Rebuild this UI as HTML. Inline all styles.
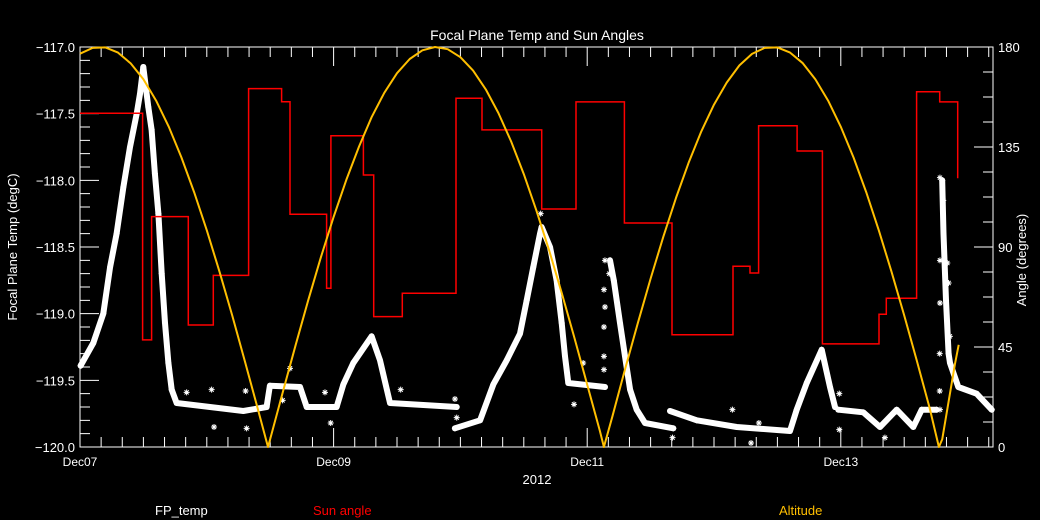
<!DOCTYPE html>
<html><head><meta charset="utf-8"><style>
html,body{margin:0;padding:0;background:#000;}
svg{display:block;font-family:"Liberation Sans",sans-serif;}
</style></head><body>
<svg id="chart" width="1040" height="520" viewBox="0 0 1040 520">
<rect x="0" y="0" width="1040" height="520" fill="#000"/>
<text x="537" y="40" fill="#fff" font-size="14" text-anchor="middle">Focal Plane Temp and Sun Angles</text>
<text x="537" y="484" fill="#fff" font-size="13" text-anchor="middle">2012</text>
<text transform="translate(17,247) rotate(-90)" fill="#fff" font-size="13" text-anchor="middle">Focal Plane Temp (degC)</text>
<text transform="translate(1026,260) rotate(-90)" fill="#fff" font-size="13" text-anchor="middle">Angle (degrees)</text>
<text x="155" y="515" fill="#fff" font-size="13">FP_temp</text>
<text x="313" y="515" fill="#ff0000" font-size="13">Sun angle</text>
<text x="779" y="515" fill="#ffbf00" font-size="13">Altitude</text>
<g id="axes"></g>
<g id="plot"></g>
</svg>
<script>
// x tick labels (days from Dec07)
const xTickDays = [0, 2, 4, 6];
const xTickLabels = ["Dec07", "Dec09", "Dec11", "Dec13"];
const leftTicks = [-117.0, -117.5, -118.0, -118.5, -119.0, -119.5, -120.0];
const leftTickLabels = ["-117.0", "-117.5", "-118.0", "-118.5", "-119.0", "-119.5", "-120.0"];
const rightTicks = [0, 45, 90, 135, 180];
const rightTickLabels = ["0", "45", "90", "135", "180"];

// FP_temp band (null = gap)
const fpTimes = [0.005,0.105,0.184,0.237,0.289,0.342,0.394,0.447,0.473,0.499,0.539,0.565,0.591,0.618,0.644,0.670,0.697,0.723,0.762,1.025,1.288,1.472,1.498,1.735,1.788,2.024,2.077,2.155,2.300,2.366,2.445,2.971,null,
 2.957,3.155,3.260,3.365,3.470,3.523,3.575,3.628,3.640,3.707,3.759,3.799,3.825,3.851,4.140,null,
 4.180,4.210,4.259,4.298,4.338,4.390,4.456,4.679,null,
 4.653,4.864,5.179,5.599,5.652,5.731,5.849,5.915,5.954,null,
 5.980,6.177,6.309,6.441,6.572,6.638,6.756,null,
 6.800,6.810,6.830,6.850,6.861,6.927,7.071,7.190];
const fpTemps = [-119.39,-119.22,-119.0,-118.65,-118.40,-118.05,-117.75,-117.50,-117.35,-117.15,-117.45,-117.62,-117.95,-118.25,-118.70,-119.07,-119.37,-119.57,-119.67,-119.70,-119.73,-119.70,-119.54,-119.55,-119.70,-119.70,-119.53,-119.37,-119.17,-119.35,-119.67,-119.70,null,
 -119.86,-119.80,-119.53,-119.35,-119.15,-118.90,-118.65,-118.40,-118.35,-118.50,-118.75,-119.07,-119.32,-119.52,-119.55,null,
 -118.60,-118.75,-119.07,-119.32,-119.57,-119.72,-119.82,-119.86,null,
 -119.73,-119.80,-119.85,-119.88,-119.72,-119.52,-119.27,-119.55,-119.70,null,
 -119.72,-119.74,-119.85,-119.72,-119.85,-119.72,-119.72,null,
 -118.00,-118.40,-118.90,-119.30,-119.37,-119.55,-119.60,-119.72];
// isolated FP_temp samples
const fpOutTimes = [0.841,1.038,1.057,1.306,1.314,1.656,1.598,1.932,1.977,2.529,2.957,2.971,3.633,3.968,3.896,4.140,4.132,4.140,4.132,4.132,4.132,4.174,4.673,5.145,5.354,5.292,5.988,5.988,6.348,6.782,6.808,6.782,6.840,6.782,6.850,6.780,6.780,6.782,6.860];
const fpOutTemps = [-119.59,-119.57,-119.85,-119.58,-119.86,-119.41,-119.65,-119.59,-119.82,-119.57,-119.64,-119.78,-118.25,-119.37,-119.68,-118.60,-118.82,-118.95,-119.10,-119.32,-119.42,-118.70,-119.93,-119.72,-119.82,-119.97,-119.60,-119.87,-119.93,-117.98,-118.15,-118.60,-118.62,-118.92,-118.77,-119.30,-119.58,-119.72,-119.17];

// Sun angle step series (value holds from time until next time)
const sunTimes = [0,0.494,0.565,0.854,1.051,1.330,1.590,1.656,1.945,1.979,2.235,2.316,2.542,2.965,3.170,3.641,3.912,4.293,4.669,5.150,5.284,5.352,5.655,5.855,6.301,6.359,6.598,6.780,6.922];
const sunAngles = [150.2,48.2,103.7,54.9,77.2,161.3,155.4,104.7,71.4,140.1,122.4,58.7,69.2,156.9,142.7,107.1,155.3,100.8,50.5,81.3,78.3,144.6,133.2,46.4,59.7,66.9,159.9,155.3,120.9];

// Altitude samples
const altTimes = [0,0.1,0.2,0.3,0.4,0.5,0.6,0.7,0.8,0.9,1.0,1.1,1.2,1.3,1.4,1.483,1.5,1.6,1.7,1.8,1.9,2.0,2.1,2.2,2.3,2.4,2.5,2.6,2.7,2.8,2.9,3.0,3.1,3.2,3.3,3.4,3.5,3.6,3.7,3.8,3.9,4.0,4.1,4.132,4.2,4.3,4.4,4.5,4.6,4.7,4.8,4.9,5.0,5.1,5.2,5.3,5.4,5.5,5.6,5.7,5.8,5.9,6.0,6.1,6.2,6.3,6.4,6.5,6.6,6.7,6.774,6.8,6.9,6.93];
const altValues = [177,179.6,179.8,177.5,172.6,165.5,155.9,144.1,130.3,114.7,97.5,78.9,59.2,38.7,17.7,0,3.6,24.9,45.8,66.0,85.4,103.5,120.2,135.2,148.4,159.4,168.2,174.6,178.5,180,179,175.4,169.4,160.9,150.3,137.5,122.8,106.3,88.4,69.2,49.0,28.1,7.2,0,14.1,35.3,55.9,75.8,94.6,112.1,127.9,142.0,154.1,164.0,171.7,176.9,179.6,179.8,177.5,172.7,165.4,155.9,144.1,130.3,114.7,97.5,78.9,59.2,38.7,17.6,0,3.4,37.2,46];

const NS = "http://www.w3.org/2000/svg";
const X0 = 80, X1 = 993, Y0 = 47, Y1 = 447, DAY = 126.8;
const xs = t => X0 + t * DAY;
const yT = v => Y0 + (-117 - v) * (Y1 - Y0) / 3;
const yA = a => Y1 - a * (Y1 - Y0) / 180;
const axes = document.getElementById('axes');
const plot = document.getElementById('plot');
function mk(tag, attrs, parent) {
  const e = document.createElementNS(NS, tag);
  for (const k in attrs) e.setAttribute(k, attrs[k]);
  parent.appendChild(e);
  return e;
}
// frame
const frame = mk('rect', {x: X0, y: Y0, width: X1 - X0, height: Y1 - Y0, fill: 'none', stroke: '#fff', 'stroke-width': 1}, axes);


// x ticks (minor every 4h)
let xd = '';
for (let i = 0; i * DAY / 6 <= X1 - X0 + 0.5; i++) {
  const x = X0 + i * DAY / 6;
  const len = (i % 12 === 0) ? 19 : 10;
  xd += `M${x} ${Y1}v${-len}M${x} ${Y0}v${len}`;
}
const xt = mk('path', {d: xd, stroke: '#fff', 'stroke-width': 1, fill: 'none'}, axes);


xTickDays.forEach((d, i) => {
  const t = mk('text', {x: xs(d), y: Y1 + 19, fill: '#fff', 'font-size': 12, 'text-anchor': 'middle'}, axes);
  t.textContent = xTickLabels[i];
  
  
});
// left ticks
let ld = '';
for (let i = 0; i <= 30; i++) {
  const y = Y0 + i * (Y1 - Y0) / 30;
  ld += `M${X0} ${y}h${i % 5 === 0 ? 19 : 10}`;
}
const lt = mk('path', {d: ld, stroke: '#fff', 'stroke-width': 1}, axes);


leftTicks.forEach((v, i) => {
  const t = mk('text', {x: 75, y: yT(v) + 5, fill: '#fff', 'font-size': 13, 'text-anchor': 'end'}, axes);
  t.textContent = leftTickLabels[i].replace('-', '\u2212');
  
  
});
// right ticks
let rd = '';
for (let i = 0; i <= 16; i++) {
  const y = Y1 - i * (Y1 - Y0) / 16;
  rd += `M${X1} ${y}h${i % 4 === 0 ? -19 : -10}`;
}
const rt = mk('path', {d: rd, stroke: '#fff', 'stroke-width': 1}, axes);


rightTicks.forEach((v, i) => {
  const t = mk('text', {x: 998, y: yA(v) + 5, fill: '#fff', 'font-size': 13}, axes);
  t.textContent = rightTickLabels[i];
  
  
});

// FP_temp band
let fd = '', pen = false;
fpTimes.forEach((t, i) => {
  if (t === null) { pen = false; return; }
  fd += (pen ? 'L' : 'M') + xs(t).toFixed(1) + ' ' + yT(fpTemps[i]).toFixed(1);
  pen = true;
});
const band = mk('path', {d: fd, stroke: '#fff', 'stroke-width': 6, fill: 'none', 'stroke-linejoin': 'round', 'stroke-linecap': 'round'}, plot);


function star(x, y) {
  const r = 3, q = 2.1;
  return `M${x - r} ${y}h${2 * r}M${x} ${y - r}v${2 * r}M${x - q} ${y - q}l${2 * q} ${2 * q}M${x - q} ${y + q}l${2 * q} ${-2 * q}`;
}
let sd = '';
fpTimes.forEach((t, i) => { if (t !== null) sd += star(xs(t), yT(fpTemps[i])); });
fpOutTimes.forEach((t, i) => { sd += star(xs(t), yT(fpOutTemps[i])); });
const stars = mk('path', {d: sd, stroke: '#fff', 'stroke-width': 1, fill: 'none'}, plot);



// Sun angle step line
let sa = '';
sunTimes.forEach((t, i) => {
  const x = xs(t), y = yA(sunAngles[i]);
  sa += (i === 0 ? 'M' : 'V') + (i === 0 ? x + ' ' + y : y.toFixed(1));
  const tn = i + 1 < sunTimes.length ? sunTimes[i + 1] : t;
  sa += 'H' + xs(tn).toFixed(1);
});
const sun = mk('path', {d: sa, stroke: '#ff0000', 'stroke-width': 1.5, fill: 'none'}, plot);



// Altitude line
let ad = '';
altTimes.forEach((t, i) => { ad += (i ? 'L' : 'M') + xs(t).toFixed(1) + ' ' + yA(altValues[i]).toFixed(1); });
const alt = mk('path', {d: ad, stroke: '#ffbf00', 'stroke-width': 2, fill: 'none', 'stroke-linejoin': 'round'}, plot);


</script>
</body></html>
